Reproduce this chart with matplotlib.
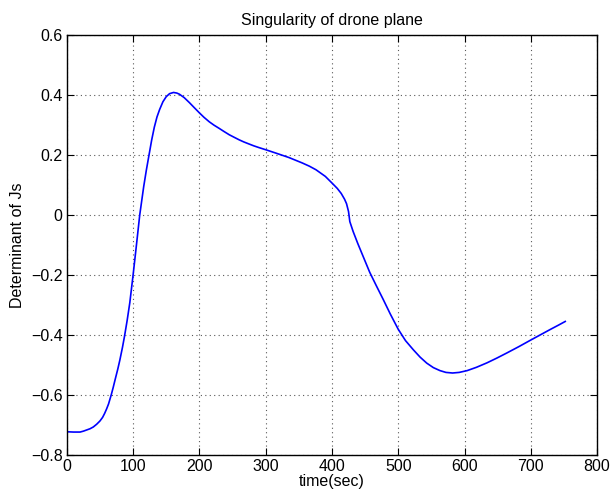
import matplotlib.pyplot as plt

plt.rcParams['font.family'] = ['Liberation Sans', 'DejaVu Sans']

# values
time_sec = [0, 10, 20, 25, 30, 35, 40, 45, 50, 54, 57, 60, 63, 67, 70, 73, 77, 80, 84,
            87, 91, 95, 100, 105, 110, 116, 120, 124, 128, 132, 136, 140, 145,
            150, 155, 161, 166, 170, 177, 185, 192, 200, 207, 215, 222, 230, 237,
            245, 252, 260, 267, 275, 282, 290, 300, 315, 335, 355, 366, 376, 390,
            400, 408, 414, 419, 422, 425, 427, 432, 439, 448, 457, 467, 477, 488,
            500, 511, 523, 533, 543, 553, 563, 572, 582, 592, 604, 618, 634, 649,
            664, 682, 700, 715, 730, 742, 752]
det_js = [-0.723, -0.724, -0.724, -0.721, -0.717, -0.713, -0.707, -0.698, -0.687,
          -0.675, -0.662, -0.647, -0.630, -0.600, -0.575, -0.548, -0.513, -0.484,
          -0.441, -0.405, -0.352, -0.293, -0.200, -0.101, 0.000, 0.095, 0.150,
          0.200, 0.250, 0.293, 0.327, 0.352, 0.378, 0.395, 0.405, 0.409, 0.407,
          0.403, 0.392, 0.375, 0.359, 0.341, 0.326, 0.311, 0.300, 0.289, 0.279,
          0.268, 0.260, 0.251, 0.244, 0.237, 0.231, 0.225, 0.218, 0.207, 0.192,
          0.174, 0.163, 0.151, 0.129, 0.107, 0.089, 0.072, 0.053, 0.038, 0.012,
          -0.022, -0.055, -0.095, -0.143, -0.191, -0.236, -0.280, -0.330, -0.381,
          -0.419, -0.450, -0.474, -0.494, -0.509, -0.519, -0.525, -0.527, -0.525,
          -0.519, -0.508, -0.493, -0.477, -0.460, -0.439, -0.417, -0.399, -0.381,
          -0.367, -0.355]

x_ticks = [0, 100, 200, 300, 400, 500, 600, 700, 800]
y_ticks = [-0.8, -0.6, -0.4, -0.2, 0, 0.2, 0.4, 0.6]
y_tick_labels = ['\u22120.8', '\u22120.6', '\u22120.4', '\u22120.2', '0', '0.2', '0.4', '0.6']

fig = plt.figure(figsize=(6.13, 4.96), dpi=100)
ax = fig.add_axes([0.109, 0.083, 0.865, 0.846])

ax.plot(time_sec, det_js, color=(0, 0, 1), lw=1.2)

ax.set_xlim(0, 800)
ax.set_ylim(-0.8, 0.6)
ax.set_xticks(x_ticks)
ax.set_yticks(y_ticks)
ax.set_yticklabels(y_tick_labels)
ax.tick_params(direction='in', top=True, right=True, labelsize=11.5, length=5,
               width=0.8, pad=3)
ax.grid(True, color='0.35', linestyle=(0, (1, 3)), lw=0.8)
for s in ax.spines.values():
    s.set_linewidth(1.0)

ax.set_title('Singularity of drone plane', fontsize=11.5, pad=7)
ax.set_xlabel('time(sec)', fontsize=11.5, labelpad=0)
ax.set_ylabel('Determinant of Js', fontsize=11.5, labelpad=4)

fig.savefig('out.png', dpi=100)
